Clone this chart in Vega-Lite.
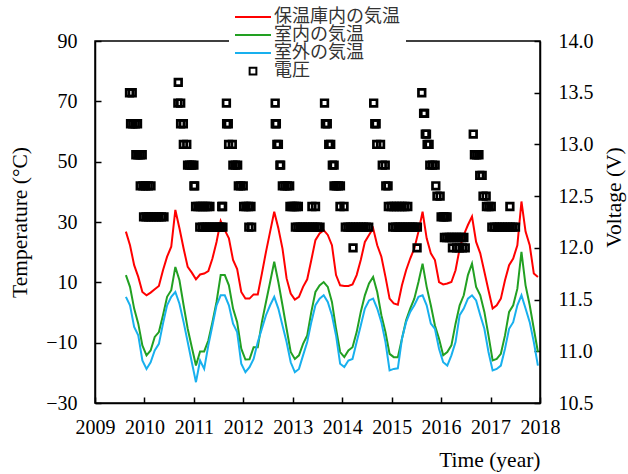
{
"$schema":"https://vega.github.io/schema/vega-lite/v6.json",
"width":445,"height":362,
"autosize":{"type":"none"},
"padding":{"left":95,"top":41,"right":88,"bottom":71},
"config":{"view":{"stroke":"black","strokeWidth":1.5},"font":"Liberation Serif",
"axis":{"grid":false,"domainColor":"black","domainWidth":1.5,"tickColor":"black","tickWidth":1.5,"tickSize":-6,"labelFont":"Liberation Serif","labelFontSize":20,"labelColor":"black","titleFont":"Liberation Serif","titleFontSize":21.5,"titleFontWeight":"normal","titleColor":"black","labelFlush":false}},
"datasets":{
"temp":[
{"t":2009.625,"a":26.8,"b":12.4,"c":5.2},{"t":2009.708,"a":22.3,"b":8.5,"c":2.4},{"t":2009.792,"a":15.7,"b":1.3,"c":-4.8},{"t":2009.875,"a":11.8,"b":-3.7,"c":-7.6},{"t":2009.958,"a":6.8,"b":-10.9,"c":-15.9},
{"t":2010.042,"a":5.7,"b":-14.2,"c":-18.7},{"t":2010.125,"a":6.6,"b":-12.6,"c":-16.5},{"t":2010.208,"a":7.7,"b":-8.1,"c":-12.6},{"t":2010.292,"a":8.8,"b":-6.5,"c":-10.4},{"t":2010.375,"a":14.0,"b":-0.9,"c":-3.7},{"t":2010.458,"a":18.5,"b":5.2,"c":2.4},{"t":2010.542,"a":21.8,"b":7.4,"c":5.2},{"t":2010.625,"a":34.0,"b":15.1,"c":6.8},{"t":2010.708,"a":27.9,"b":10.7,"c":2.9},{"t":2010.792,"a":21.2,"b":2.4,"c":-3.2},{"t":2010.875,"a":15.1,"b":-5.4,"c":-9.8},{"t":2010.958,"a":13.2,"b":-11.5,"c":-16.5},
{"t":2011.042,"a":11.0,"b":-17.6,"c":-23.1},{"t":2011.125,"a":12.6,"b":-12.9,"c":-15.9},{"t":2011.208,"a":12.9,"b":-12.9,"c":-18.7},{"t":2011.292,"a":13.7,"b":-9.3,"c":-10.9},{"t":2011.375,"a":17.9,"b":-3.2,"c":-4.3},{"t":2011.458,"a":23.4,"b":3.5,"c":2.4},{"t":2011.542,"a":30.3,"b":12.4,"c":5.7},{"t":2011.625,"a":27.3,"b":12.4,"c":5.7},{"t":2011.708,"a":24.6,"b":9.0,"c":2.4},{"t":2011.792,"a":17.4,"b":1.3,"c":-3.7},{"t":2011.875,"a":14.4,"b":-3.2,"c":-6.5},{"t":2011.958,"a":6.8,"b":-12.0,"c":-17.0},
{"t":2012.042,"a":4.6,"b":-15.6,"c":-19.8},{"t":2012.125,"a":4.6,"b":-15.5,"c":-18.1},{"t":2012.208,"a":6.0,"b":-11.5,"c":-15.4},{"t":2012.292,"a":6.0,"b":-11.5,"c":-9.8},{"t":2012.375,"a":12.9,"b":-3.2,"c":-5.4},{"t":2012.458,"a":20.1,"b":3.5,"c":-0.9},{"t":2012.542,"a":26.8,"b":10.1,"c":2.4},{"t":2012.625,"a":33.4,"b":16.8,"c":5.2},{"t":2012.708,"a":27.9,"b":10.1,"c":1.3},{"t":2012.792,"a":21.2,"b":2.4,"c":-4.3},{"t":2012.875,"a":11.3,"b":-5.4,"c":-9.8},{"t":2012.958,"a":6.3,"b":-13.1,"c":-16.5},
{"t":2013.042,"a":4.3,"b":-15.4,"c":-19.8},{"t":2013.125,"a":5.2,"b":-14.2,"c":-18.7},{"t":2013.208,"a":8.5,"b":-10.4,"c":-14.2},{"t":2013.292,"a":11.0,"b":-7.6,"c":-9.8},{"t":2013.375,"a":17.4,"b":0.2,"c":-3.2},{"t":2013.458,"a":24.0,"b":6.8,"c":2.4},{"t":2013.542,"a":26.2,"b":9.0,"c":4.6},{"t":2013.625,"a":27.3,"b":10.1,"c":5.7},{"t":2013.708,"a":25.7,"b":8.5,"c":3.5},{"t":2013.792,"a":22.3,"b":3.5,"c":-0.9},{"t":2013.875,"a":12.4,"b":-5.4,"c":-7.6},{"t":2013.958,"a":9.0,"b":-13.1,"c":-17.0},
{"t":2014.042,"a":8.8,"b":-14.8,"c":-18.1},{"t":2014.125,"a":8.8,"b":-12.6,"c":-15.9},{"t":2014.208,"a":9.3,"b":-11.5,"c":-15.4},{"t":2014.292,"a":12.4,"b":-6.5,"c":-9.8},{"t":2014.375,"a":17.4,"b":0.2,"c":-4.3},{"t":2014.458,"a":23.4,"b":5.7,"c":1.3},{"t":2014.542,"a":25.7,"b":9.6,"c":4.0},{"t":2014.625,"a":27.9,"b":11.8,"c":4.6},{"t":2014.708,"a":22.3,"b":6.8,"c":1.3},{"t":2014.792,"a":18.5,"b":-0.9,"c":-3.2},{"t":2014.875,"a":11.8,"b":-6.5,"c":-9.8},{"t":2014.958,"a":4.6,"b":-13.7,"c":-19.2},
{"t":2015.042,"a":3.0,"b":-14.8,"c":-18.7},{"t":2015.125,"a":2.6,"b":-14.8,"c":-18.5},{"t":2015.208,"a":9.0,"b":-8.7,"c":-8.7},{"t":2015.292,"a":14.0,"b":-2.6,"c":-3.2},{"t":2015.375,"a":17.9,"b":1.3,"c":0.2},{"t":2015.458,"a":21.2,"b":4.6,"c":2.4},{"t":2015.542,"a":26.8,"b":10.1,"c":5.2},{"t":2015.625,"a":33.4,"b":16.2,"c":5.7},{"t":2015.708,"a":24.6,"b":8.5,"c":2.4},{"t":2015.792,"a":19.6,"b":2.4,"c":-3.7},{"t":2015.875,"a":17.4,"b":-4.3,"c":-5.4},{"t":2015.958,"a":10.1,"b":-8.7,"c":-12.0},
{"t":2016.042,"a":9.3,"b":-14.2,"c":-16.5},{"t":2016.125,"a":9.6,"b":-13.1,"c":-17.6},{"t":2016.208,"a":10.1,"b":-10.9,"c":-14.2},{"t":2016.292,"a":14.0,"b":-3.7,"c":-9.8},{"t":2016.375,"a":21.2,"b":2.4,"c":-0.9},{"t":2016.458,"a":25.7,"b":5.7,"c":1.3},{"t":2016.542,"a":29.0,"b":12.4,"c":4.6},{"t":2016.625,"a":31.8,"b":16.2,"c":5.7},{"t":2016.708,"a":23.4,"b":8.5,"c":4.0},{"t":2016.792,"a":19.6,"b":5.7,"c":-0.9},{"t":2016.875,"a":13.5,"b":0.2,"c":-5.4},{"t":2016.958,"a":7.4,"b":-7.6,"c":-13.1},
{"t":2017.042,"a":1.3,"b":-15.9,"c":-19.2},{"t":2017.125,"a":2.4,"b":-15.4,"c":-18.7},{"t":2017.208,"a":4.6,"b":-13.7,"c":-17.6},{"t":2017.292,"a":10.7,"b":-7.6,"c":-12.0},{"t":2017.375,"a":15.7,"b":0.2,"c":-5.4},{"t":2017.458,"a":17.9,"b":2.4,"c":-3.2},{"t":2017.542,"a":22.3,"b":7.9,"c":2.4},{"t":2017.625,"a":36.8,"b":20.1,"c":5.7},{"t":2017.708,"a":26.8,"b":9.0,"c":1.3},{"t":2017.792,"a":22.3,"b":2.4,"c":-3.2},{"t":2017.875,"a":12.9,"b":-5.4,"c":-9.8},{"t":2017.958,"a":11.8,"b":-13.1,"c":-17.6}
],
"volt":[
{"t":2009.698,"v":13.5},{"t":2009.753,"v":13.5},
{"t":2009.719,"v":13.2},{"t":2009.765,"v":13.2},{"t":2009.814,"v":13.2},{"t":2009.860,"v":13.2},
{"t":2009.826,"v":12.9},{"t":2009.870,"v":12.9},{"t":2009.913,"v":12.9},{"t":2009.955,"v":12.9},
{"t":2009.915,"v":12.6},{"t":2009.970,"v":12.6},{"t":2010.024,"v":12.6},{"t":2010.077,"v":12.6},{"t":2010.132,"v":12.6},
{"t":2009.982,"v":12.3},{"t":2010.032,"v":12.3},{"t":2010.085,"v":12.3},{"t":2010.136,"v":12.3},{"t":2010.188,"v":12.3},{"t":2010.239,"v":12.3},{"t":2010.291,"v":12.3},{"t":2010.342,"v":12.3},{"t":2010.395,"v":12.3},
{"t":2010.684,"v":13.6},
{"t":2010.676,"v":13.4},{"t":2010.733,"v":13.4},
{"t":2010.731,"v":13.2},{"t":2010.787,"v":13.2},
{"t":2010.787,"v":13.0},{"t":2010.856,"v":13.0},
{"t":2010.872,"v":12.8},{"t":2010.915,"v":12.8},{"t":2010.957,"v":12.8},{"t":2011.000,"v":12.8},
{"t":2011.000,"v":12.6},{"t":2011.016,"v":12.6},
{"t":2011.034,"v":12.4},{"t":2011.083,"v":12.4},{"t":2011.132,"v":12.4},{"t":2011.178,"v":12.4},{"t":2011.227,"v":12.4},{"t":2011.275,"v":12.4},{"t":2011.324,"v":12.4},{"t":2011.563,"v":12.4},{"t":2011.581,"v":12.4},
{"t":2011.119,"v":12.2},{"t":2011.174,"v":12.2},{"t":2011.223,"v":12.2},{"t":2011.271,"v":12.2},{"t":2011.318,"v":12.2},{"t":2011.366,"v":12.2},{"t":2011.415,"v":12.2},{"t":2011.462,"v":12.2},{"t":2011.508,"v":12.2},{"t":2011.549,"v":12.2},{"t":2011.587,"v":12.2},
{"t":2011.658,"v":13.4},
{"t":2011.662,"v":13.2},{"t":2011.696,"v":13.2},
{"t":2011.702,"v":13.0},{"t":2011.777,"v":13.0},
{"t":2011.789,"v":12.8},{"t":2011.838,"v":12.8},{"t":2011.885,"v":12.8},
{"t":2011.899,"v":12.6},{"t":2011.947,"v":12.6},{"t":2011.998,"v":12.6},
{"t":2012.006,"v":12.4},{"t":2012.055,"v":12.4},{"t":2012.105,"v":12.4},{"t":2012.154,"v":12.4},
{"t":2012.111,"v":12.2},{"t":2012.168,"v":12.2},
{"t":2012.644,"v":13.4},
{"t":2012.646,"v":13.2},{"t":2012.668,"v":13.2},
{"t":2012.678,"v":13.0},{"t":2012.709,"v":13.0},
{"t":2012.739,"v":12.8},{"t":2012.755,"v":12.8},
{"t":2012.789,"v":12.6},{"t":2012.840,"v":12.6},{"t":2012.889,"v":12.6},{"t":2012.937,"v":12.6},
{"t":2012.943,"v":12.4},{"t":2012.986,"v":12.4},{"t":2013.028,"v":12.4},{"t":2013.071,"v":12.4},{"t":2013.113,"v":12.4},{"t":2013.387,"v":12.4},{"t":2013.460,"v":12.4},
{"t":2013.053,"v":12.2},{"t":2013.103,"v":12.2},{"t":2013.152,"v":12.2},{"t":2013.202,"v":12.2},{"t":2013.251,"v":12.2},{"t":2013.302,"v":12.2},{"t":2013.350,"v":12.2},{"t":2013.401,"v":12.2},{"t":2013.451,"v":12.2},{"t":2013.500,"v":12.2},{"t":2013.551,"v":12.2},
{"t":2013.642,"v":13.4},
{"t":2013.660,"v":13.2},{"t":2013.698,"v":13.2},
{"t":2013.727,"v":13.0},{"t":2013.767,"v":13.0},
{"t":2013.800,"v":12.8},{"t":2013.836,"v":12.8},
{"t":2013.834,"v":12.6},{"t":2013.879,"v":12.6},{"t":2013.921,"v":12.6},{"t":2013.964,"v":12.6},
{"t":2013.955,"v":12.4},{"t":2014.036,"v":12.4},
{"t":2014.063,"v":12.2},{"t":2014.115,"v":12.2},{"t":2014.168,"v":12.2},{"t":2014.221,"v":12.2},{"t":2014.273,"v":12.2},{"t":2014.326,"v":12.2},{"t":2014.379,"v":12.2},{"t":2014.431,"v":12.2},{"t":2014.484,"v":12.2},{"t":2014.536,"v":12.2},
{"t":2014.219,"v":12.0},
{"t":2014.636,"v":13.4},
{"t":2014.658,"v":13.2},{"t":2014.686,"v":13.2},
{"t":2014.698,"v":13.0},{"t":2014.775,"v":13.0},
{"t":2014.810,"v":12.8},{"t":2014.870,"v":12.8},
{"t":2014.881,"v":12.6},{"t":2014.927,"v":12.6},
{"t":2014.933,"v":12.4},{"t":2014.990,"v":12.4},{"t":2015.047,"v":12.4},{"t":2015.103,"v":12.4},{"t":2015.156,"v":12.4},{"t":2015.211,"v":12.4},{"t":2015.267,"v":12.4},{"t":2015.326,"v":12.4},
{"t":2015.022,"v":12.2},{"t":2015.079,"v":12.2},{"t":2015.128,"v":12.2},{"t":2015.176,"v":12.2},{"t":2015.225,"v":12.2},{"t":2015.275,"v":12.2},{"t":2015.324,"v":12.2},{"t":2015.372,"v":12.2},{"t":2015.423,"v":12.2},{"t":2015.472,"v":12.2},{"t":2015.520,"v":12.2},
{"t":2015.514,"v":12.0},
{"t":2015.609,"v":13.5},
{"t":2015.646,"v":13.3},{"t":2015.666,"v":13.3},
{"t":2015.680,"v":13.1},{"t":2015.704,"v":13.1},
{"t":2015.717,"v":13.0},{"t":2015.757,"v":13.0},
{"t":2015.771,"v":12.8},{"t":2015.826,"v":12.8},{"t":2015.879,"v":12.8},
{"t":2015.893,"v":12.6},
{"t":2015.917,"v":12.5},{"t":2015.980,"v":12.5},
{"t":2016.000,"v":12.3},{"t":2016.045,"v":12.3},{"t":2016.079,"v":12.3},{"t":2016.121,"v":12.3},
{"t":2016.067,"v":12.1},{"t":2016.115,"v":12.1},{"t":2016.166,"v":12.1},{"t":2016.215,"v":12.1},{"t":2016.263,"v":12.1},{"t":2016.312,"v":12.1},{"t":2016.362,"v":12.1},{"t":2016.411,"v":12.1},{"t":2016.460,"v":12.1},
{"t":2016.229,"v":12.0},{"t":2016.312,"v":12.0},{"t":2016.368,"v":12.0},{"t":2016.431,"v":12.0},{"t":2016.488,"v":12.0},
{"t":2016.650,"v":13.1},
{"t":2016.674,"v":12.9},{"t":2016.721,"v":12.9},{"t":2016.765,"v":12.9},
{"t":2016.781,"v":12.7},{"t":2016.830,"v":12.7},
{"t":2016.848,"v":12.5},{"t":2016.911,"v":12.5},
{"t":2016.917,"v":12.4},{"t":2016.966,"v":12.4},{"t":2017.014,"v":12.4},{"t":2017.391,"v":12.4},
{"t":2017.026,"v":12.2},{"t":2017.079,"v":12.2},{"t":2017.132,"v":12.2},{"t":2017.186,"v":12.2},{"t":2017.239,"v":12.2},{"t":2017.291,"v":12.2},{"t":2017.344,"v":12.2},{"t":2017.399,"v":12.2},{"t":2017.451,"v":12.2},{"t":2017.504,"v":12.2}
]},
"layer":[
{"data":{"name":"temp"},
 "transform":[{"fold":["a","b","c"],"as":["s","temp"]}],
 "mark":{"type":"line","strokeWidth":2},
 "encoding":{
  "x":{"field":"t","type":"quantitative","scale":{"domain":[2009,2018],"nice":false,"zero":false},
   "axis":{"title":"Time (year)","values":[2009,2010,2011,2012,2013,2014,2015,2016,2017,2018],"format":"d","labelPadding":20,"titleX":445,"titleY":57,"titleAlign":"right","titleBaseline":"middle","titleAnchor":"end"}},
  "y":{"field":"temp","type":"quantitative","scale":{"domain":[-30,90],"nice":false,"zero":false},
   "axis":{"title":"Temperature (°C)","values":[-30,-10,10,30,50,70,90],"labelPadding":24,"titleX":-75,"titleY":181,"titleAngle":270,"titleAlign":"center","titleBaseline":"middle"}},
  "color":{"field":"s","type":"nominal",
   "scale":{"domain":["a","b","c","電圧"],"range":["#FF0000","#22A022","#18B0EE","#000000"]},
   "legend":{"title":null,"orient":"none","legendX":134,"legendY":-39,"fillColor":"white","padding":6,
    "symbolType":"M-4,0H4","symbolSize":81,"symbolStrokeWidth":2,"symbolOffset":9,"labelOffset":12,
    "rowPadding":0,"labelFont":"Noto Sans CJK JP","labelFontSize":18,"labelColor":"#333333","labelLimit":300,
    "labelExpr":"datum.label == 'a' ? '保温庫内の気温' : datum.label == 'b' ? '室内の気温' : datum.label == 'c' ? '室外の気温' : datum.label",
    "encode":{"symbols":{"update":{"shape":{"signal":"datum.value === '電圧' ? 'M-0.75,-0.75H0.75V0.75H-0.75Z' : 'M-4,0H4'"},"fill":{"value":"transparent"},"opacity":{"value":1}}}}}}
 }},
{"data":{"name":"volt"},
 "mark":{"type":"point","shape":"square","filled":false,"size":44,"strokeWidth":2.7,"opacity":1},
 "encoding":{
  "x":{"field":"t","type":"quantitative"},
  "y":{"field":"v","type":"quantitative","scale":{"domain":[10.5,14],"nice":false,"zero":false},
   "axis":{"orient":"right","title":"Voltage (V)","values":[10.5,11,11.5,12,12.5,13,13.5,14],"format":".1f","labelPadding":24,"titleX":74,"titleY":156,"titleAngle":270,"titleAlign":"center","titleBaseline":"middle"}},
  "color":{"datum":"電圧","type":"nominal"}
 }}
],
"resolve":{"scale":{"y":"independent"}}
}
